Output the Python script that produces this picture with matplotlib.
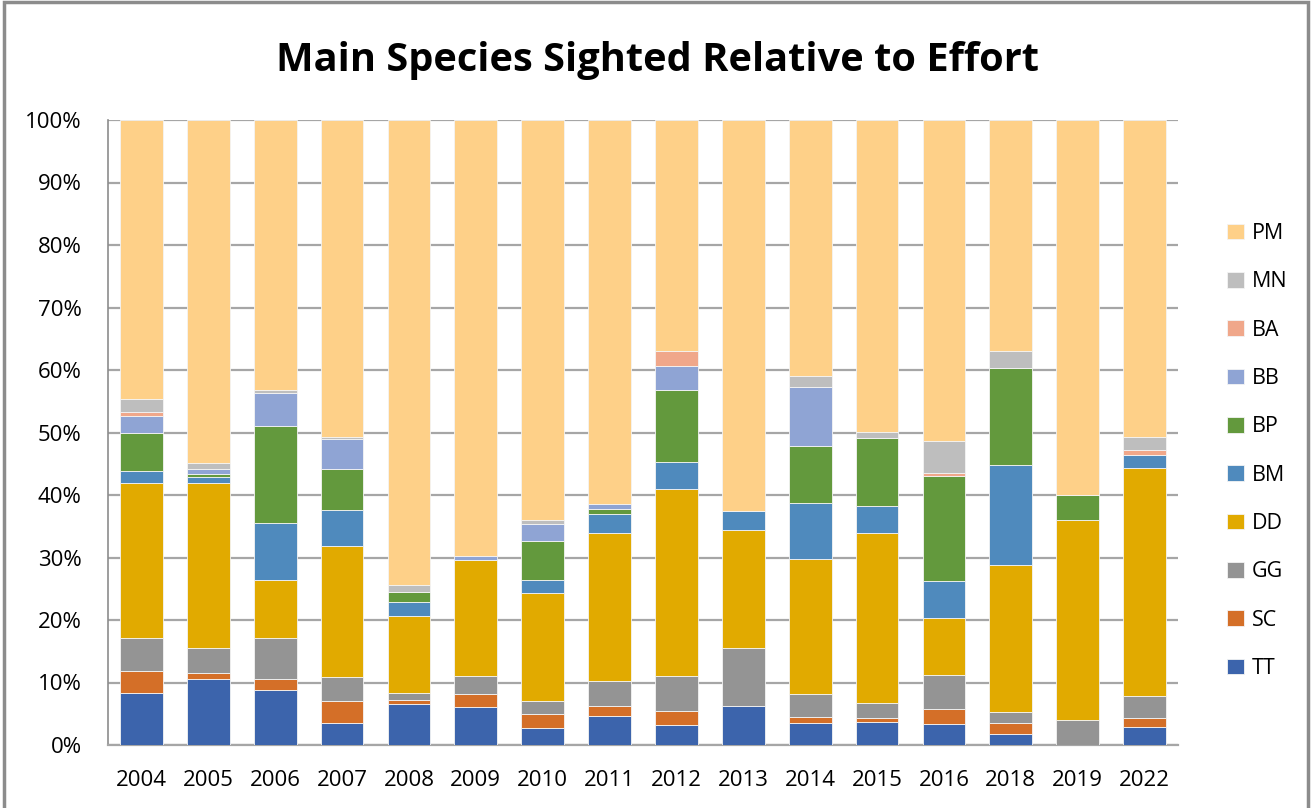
import matplotlib.pyplot as plt
import numpy as np
from matplotlib.patches import Rectangle
from matplotlib.ticker import PercentFormatter

# 物种占比（% of effort），按年份
years = ['2004', '2005', '2006', '2007', '2008', '2009', '2010', '2011',
         '2012', '2013', '2014', '2015', '2016', '2018', '2019', '2022']

TT = [8.3, 10.6, 8.75, 3.6, 6.6, 6.1, 2.8, 4.7, 3.25, 6.2, 3.6, 3.7, 3.3, 1.8, 0.0, 2.9]
SC = [3.5, 0.9, 1.8, 3.4, 0.65, 2.1, 2.1, 1.6, 2.25, 0.0, 0.9, 0.7, 2.45, 1.75, 0.0, 1.45]
GG = [5.4, 4.0, 6.6, 3.9, 1.1, 2.8, 2.1, 3.9, 5.55, 9.4, 3.6, 2.25, 5.4, 1.8, 3.95, 3.5]
DD = [24.7, 26.5, 9.2, 21.0, 12.3, 18.6, 17.3, 23.7, 29.85, 18.8, 21.7, 27.25, 9.2, 23.5, 32.05, 36.4]
BM = [2.0, 0.9, 9.2, 5.7, 2.25, 0.0, 2.1, 3.1, 4.4, 3.1, 9.0, 4.4, 5.9, 16.0, 0.0, 2.1]
BP = [6.1, 0.4, 15.5, 6.65, 1.55, 0.0, 6.2, 0.75, 11.5, 0.0, 9.0, 10.9, 16.9, 15.4, 4.0, 0.0]
BB = [2.7, 0.9, 5.3, 4.8, 0.0, 0.6, 2.8, 0.8, 3.9, 0.0, 9.5, 0.0, 0.0, 0.0, 0.0, 0.0]
BA = [0.6, 0.0, 0.0, 0.0, 0.0, 0.0, 0.0, 0.0, 2.3, 0.0, 0.0, 0.0, 0.5, 0.0, 0.0, 0.75]
MN = [2.0, 1.0, 0.4, 0.3, 1.2, 0.0, 0.6, 0.0, 0.0, 0.0, 1.8, 0.9, 5.0, 2.7, 0.0, 2.1]
PM = [44.7, 54.8, 43.2, 50.7, 74.35, 69.7, 64.0, 61.4, 37.0, 62.5, 40.96, 49.9, 51.5, 37.0, 60.0, 50.7]

species = ['TT', 'SC', 'GG', 'DD', 'BM', 'BP', 'BB', 'BA', 'MN', 'PM']
values = [TT, SC, GG, DD, BM, BP, BB, BA, MN, PM]
colors = ['#3C64AC', '#D46F28', '#949494', '#E1AA00', '#4F8ABD',
          '#63993D', '#8FA4D4', '#F0A78A', '#BEBEBE', '#FED088']

plt.rcParams['font.family'] = ['Open Sans', 'DejaVu Sans']

fig = plt.figure(figsize=(13.12, 8.08), dpi=100)
ax = fig.add_axes([108 / 1312, 1 - 745 / 808, 1070 / 1312, 625 / 808])

x = np.arange(len(years))
data = np.array(values, dtype=float)
totals = data.sum(axis=0)
pct = data / totals * 100
bottom = np.zeros(len(years))
handles = []
for name, row, c in zip(species, pct, colors):
    h = ax.bar(x, row, bottom=bottom, width=0.64, color=c,
               edgecolor='#f4f4f4', linewidth=0.6, label=name, zorder=3)
    handles.append(h)
    bottom += row

ax.set_xlim(-0.5, len(years) - 0.5)
ax.set_ylim(0, 100)
ax.set_yticks(np.arange(0, 101, 10))
ax.yaxis.set_major_formatter(PercentFormatter(decimals=0))
ax.set_xticks(x)
ax.set_xticklabels(years)
ax.tick_params(axis='both', length=0, labelsize=16, colors='black')
ax.tick_params(axis='x', pad=18)
ax.tick_params(axis='y', pad=19)
ax.grid(axis='y', color='#a6a6a6', linewidth=1.6, zorder=0)

for s in ['top', 'right']:
    ax.spines[s].set_visible(False)
ax.spines['left'].set_color('#8c8c8c')
ax.spines['left'].set_linewidth(1.2)
ax.spines['bottom'].set_color('#a6a6a6')
ax.spines['bottom'].set_linewidth(1.6)

fig.text(657 / 1312, 1 - 60 / 808, 'Main Species Sighted Relative to Effort',
         ha='center', va='center', fontsize=28.6, fontweight='bold')

leg = fig.legend(handles[::-1], species[::-1], loc='center left',
                 bbox_to_anchor=(1208 / 1312, 1 - 451 / 808), frameon=False,
                 fontsize=15.5, labelspacing=1.27, handlelength=0.75,
                 handleheight=0.75, handletextpad=0.4)

# 外框
fig.patches.append(Rectangle((4 / 1312, -0.02), 1304 / 1312, 1 - 2 / 808 + 0.02,
                             transform=fig.transFigure, fill=False,
                             edgecolor='#8c8c8c', linewidth=2.5))

fig.savefig('out.png', dpi=100)
